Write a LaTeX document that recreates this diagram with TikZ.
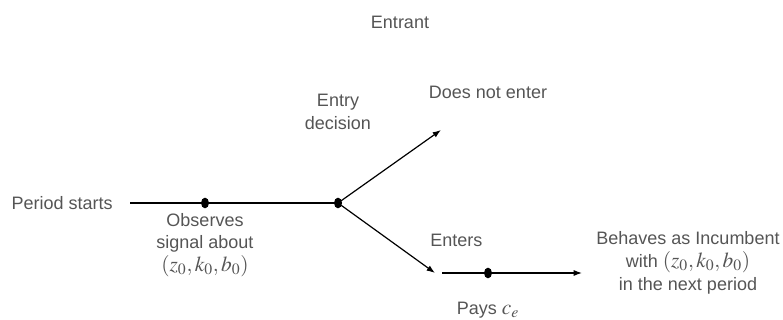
\documentclass[tikz,border=0pt]{standalone}
\usepackage{mathptmx}
\usepackage{fontspec}
\setmainfont{Liberation Sans}
\usepackage{xcolor}
\definecolor{txtgrey}{HTML}{555555}
\usetikzlibrary{arrows.meta,positioning,shapes.geometric}
\newcommand{\statemath}[1]{{\fontsize{16}{17}\selectfont$#1$}}

\begin{document}
\begin{tikzpicture}[
  x=0.75pt, y=-0.75pt,
  font=\fontsize{13.5}{17}\selectfont,
  label/.style={text=txtgrey, inner sep=0pt, align=center},
  dot/.style={ellipse, fill=black, minimum width=6pt, minimum height=8pt, inner sep=0pt},
  timeline/.style={line width=0.9pt, color=black},
  arr/.style={-{Latex[length=2.2mm, width=1.6mm]}, line width=0.9pt, color=black}
]
\useasboundingbox (0,0) rectangle (783,320);

% Header
\node[label] (entrant) at (400,22) {Entrant};

% Main timeline
\node[label, anchor=east] (start) at (113,203) {Period starts};
\coordinate (lineL) at (130,203);
\node[dot] (observe) at (205,203) {};
\node[dot] (decide) at (338,203) {};
\draw[timeline] (lineL) -- (observe) -- (decide);

\node[label] (obstext) at (205,245) {Observes\\signal about\\\statemath{(z_0,k_0,b_0)}};
\node[label] (dectext) at (338,112) {Entry\\decision};

% Branches
\coordinate (uptip) at (441,130);
\coordinate (downtip) at (435,273);
\draw[arr] (decide.center) -- (uptip);
\draw[arr] (decide.center) -- (downtip);
\node[label] (noenter) at (488,92) {Does not enter};
\node[label, anchor=west] (enters) at (430,240) {Enters};

% Entry path
\coordinate (entL) at (442,273);
\node[dot] (pays) at (488,273) {};
\coordinate (entR) at (582,273);
\draw[arr] (entL) -- (pays) -- (entR);
\node[label] (paytext) at (488,310) {Pays \statemath{c_e}};
\node[label] (incumbent) at (688,263) {Behaves as Incumbent\\with \statemath{(z_0,k_0,b_0)}\\in the next period};

\end{tikzpicture}
\end{document}
